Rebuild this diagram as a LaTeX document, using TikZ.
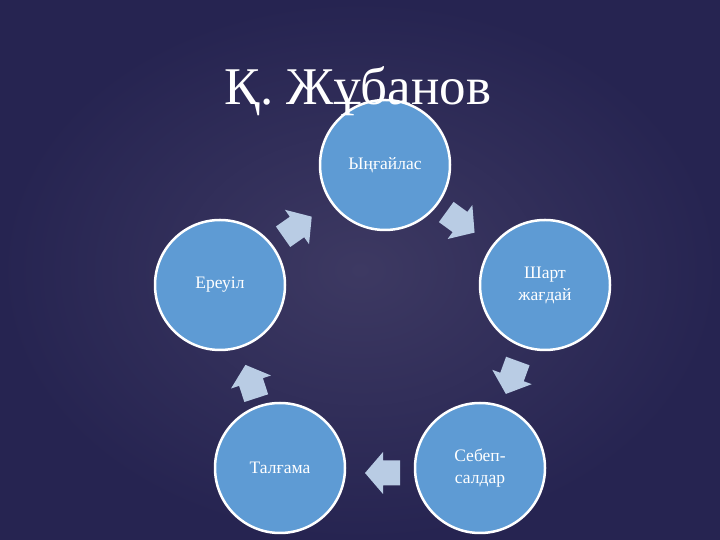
\documentclass[tikz,border=0pt]{standalone}
\usepackage{fontspec}
\setmainfont{Liberation Serif}
\definecolor{bgout}{HTML}{262451}
\definecolor{bgin}{HTML}{3D3962}
\definecolor{circfill}{HTML}{5E9BD4}
\definecolor{arrowfill}{HTML}{B9CCE4}
\tikzset{
  stage/.style={circle, fill=circfill, draw=white, line width=2.5pt, minimum size=130pt, inner sep=0pt, text=white, font=\fontsize{17.5}{22}\selectfont, align=center},
  blockarrow/.pic={\fill[arrowfill] (-17,-12.5) -- (0,-12.5) -- (0,-21) -- (18,0) -- (0,21) -- (0,12.5) -- (-17,12.5) -- cycle;}
}
\begin{document}
\begin{tikzpicture}[x=1pt,y=1pt]
\useasboundingbox (0,0) rectangle (720,540);
\shade[inner color=bgin, outer color=bgout] (0,0) rectangle (720,540);
\node[stage] (c1) at (385,375) {Ыңғайлас};
\node[stage] (c2) at (545,255) {Шарт\\жағдай};
\node[stage] (c3) at (480,72) {Себеп-\\салдар};
\node[stage] (c4) at (280,72) {Талғама};
\node[stage] (c5) at (220,255) {Ереуіл};
\pic[rotate=35] (a1) at (297,313) {blockarrow};
\pic[rotate=-36] (a2) at (460,318) {blockarrow};
\pic[rotate=-110] (a3) at (512,163) {blockarrow};
\pic[rotate=180] (a4) at (383,67) {blockarrow};
\pic[rotate=108] (a5) at (251,158) {blockarrow};
\node[text=white, font=\fontsize{53}{60}\selectfont, anchor=base] (title) at (358,435) {Қ. Жұбанов};
\end{tikzpicture}
\end{document}
